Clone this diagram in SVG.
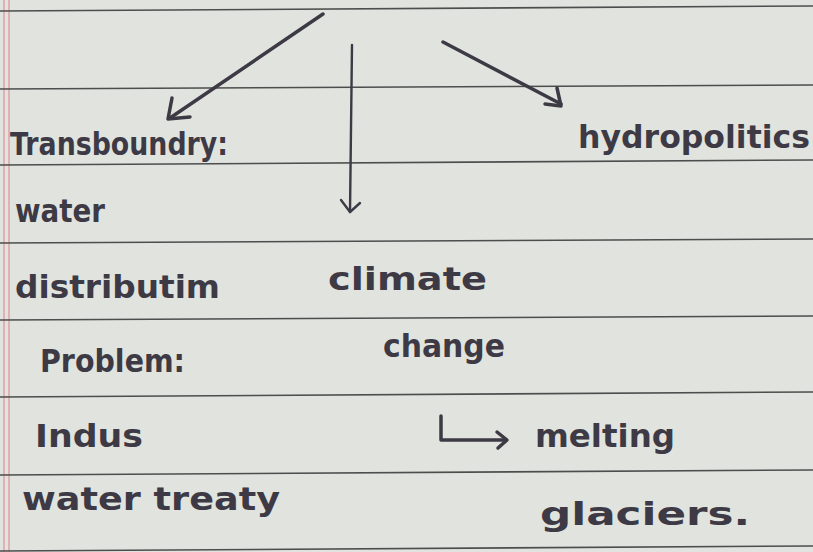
<svg xmlns="http://www.w3.org/2000/svg" width="813" height="552" viewBox="0 0 813 552">
<style>
.rule{stroke:#4d4d4d;stroke-width:1.6;fill:none}
.margin{stroke:#dc97a0;stroke-width:1.3}
.ink{fill:none;stroke:#3d3a45;stroke-width:3.5;stroke-linecap:round;stroke-linejoin:round}
.thin{stroke-width:2.4}
.hw{font-family:"DejaVu Sans",sans-serif;fill:#3d3a45;font-size:32px;font-weight:bold}
</style>
<rect width="813" height="552" fill="#e1e4de"/>
<g id="paper">
<line class="margin" x1="4" y1="0" x2="4" y2="552"/>
<line class="margin" x1="9" y1="0" x2="9" y2="552"/>
<line class="rule" x1="0" y1="11" x2="813" y2="6"/>
<line class="rule" x1="0" y1="89" x2="813" y2="85"/>
<line class="rule" x1="0" y1="165" x2="813" y2="160"/>
<line class="rule" x1="0" y1="243" x2="813" y2="239"/>
<line class="rule" x1="0" y1="320" x2="813" y2="316"/>
<line class="rule" x1="0" y1="397" x2="813" y2="392"/>
<line class="rule" x1="0" y1="475" x2="813" y2="470"/>
<line class="rule" x1="0" y1="551" x2="813" y2="546"/>
</g>
<g id="connectors">
<path class="ink" d="M323,14 L170,118"/>
<path class="ink" d="M172,98 L168,119 L190,117"/>
<path class="ink thin" d="M352,45 L350,212"/>
<path class="ink thin" d="M341,200 L350,212 L360,203"/>
<path class="ink" d="M443,42 L561,104"/>
<path class="ink" d="M557,88 L561,106 L545,104"/>
<path class="ink" d="M441,416 L441,440 L505,440"/>
<path class="ink" d="M497,432 L507,440 L498,448"/>
</g>
<g id="transboundry"><text class="hw" x="10" y="155" textLength="218" lengthAdjust="spacingAndGlyphs">Transboundry:</text></g>
<g id="water"><text class="hw" x="15" y="222" textLength="90" lengthAdjust="spacingAndGlyphs">water</text></g>
<g id="distribution"><text class="hw" x="15" y="298" textLength="205" lengthAdjust="spacingAndGlyphs">distributim</text></g>
<g id="problem"><text class="hw" x="40" y="372" textLength="145" lengthAdjust="spacingAndGlyphs">Problem:</text></g>
<g id="indus"><text class="hw" x="35" y="447" textLength="108" lengthAdjust="spacingAndGlyphs">Indus</text></g>
<g id="water-treaty"><text class="hw" x="22" y="510" textLength="258" lengthAdjust="spacingAndGlyphs">water treaty</text></g>
<g id="climate"><text class="hw" x="328" y="290" textLength="159" lengthAdjust="spacingAndGlyphs">climate</text></g>
<g id="change"><text class="hw" x="383" y="357" textLength="122" lengthAdjust="spacingAndGlyphs">change</text></g>
<g id="melting"><text class="hw" x="535" y="447" textLength="140" lengthAdjust="spacingAndGlyphs">melting</text></g>
<g id="glaciers"><text class="hw" x="540" y="525" textLength="210" lengthAdjust="spacingAndGlyphs">glaciers.</text></g>
<g id="hydropolitics"><text class="hw" x="578" y="148" textLength="232" lengthAdjust="spacingAndGlyphs">hydropolitics</text></g>
</svg>
